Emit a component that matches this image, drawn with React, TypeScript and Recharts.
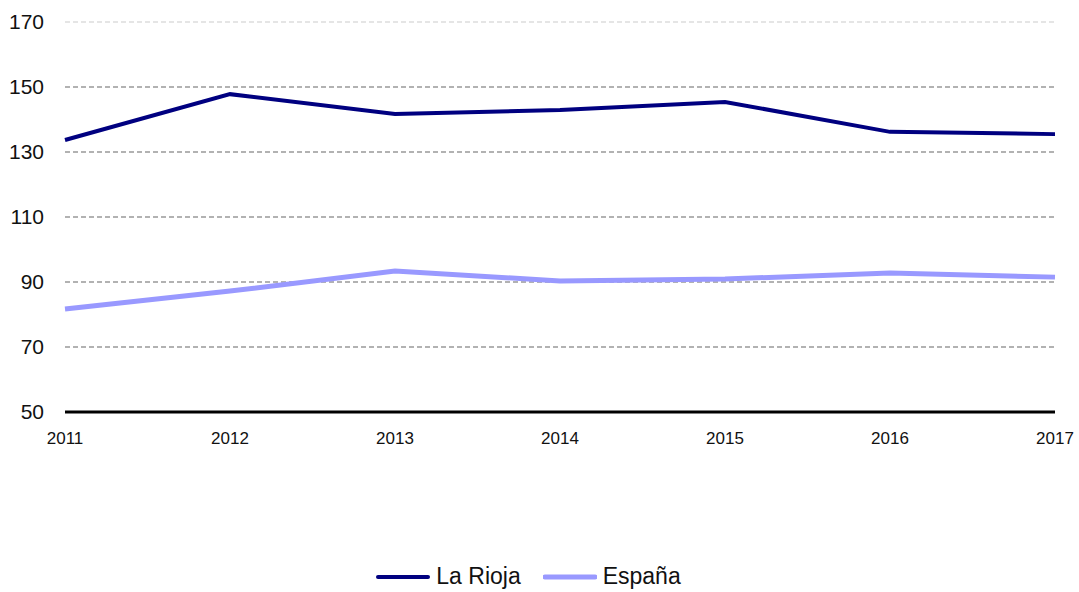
import { LineChart, Line, XAxis, YAxis, ReferenceLine, Legend } from "recharts";

const years = ["2011", "2012", "2013", "2014", "2015", "2016", "2017"];
const laRioja = [133.7, 147.8, 141.7, 142.9, 145.4, 136.2, 135.5];
const espana = [81.7, 87.2, 93.4, 90.3, 90.9, 92.8, 91.5];
const yTicks = [50, 70, 90, 110, 130, 150, 170];

const data = years.map((year, i) => ({
  year,
  laRioja: laRioja[i],
  espana: espana[i],
}));

const font = "'Liberation Sans', Arial, Helvetica, sans-serif";

function LegendContent() {
  const items = [
    { label: "La Rioja", color: "#000080", width: 4 },
    { label: "España", color: "#9999ff", width: 5 },
  ];
  return (
    <div style={{ display: "flex", justifyContent: "center", fontFamily: font, fontSize: 23, color: "#111" }}>
      {items.map((it) => (
        <div key={it.label} style={{ display: "flex", alignItems: "center", marginRight: 22 }}>
          <svg width={54} height={10} style={{ marginRight: 6 }}>
            <line x1={2} y1={5} x2={52} y2={5} stroke={it.color} strokeWidth={it.width} strokeLinecap="round" />
          </svg>
          <span>{it.label}</span>
        </div>
      ))}
    </div>
  );
}

export default function App() {
  return (
    <div style={{ width: 1079, height: 592, background: "#fff" }}>
      <style>{"body{margin:0}"}</style>
      <LineChart
        width={1079}
        height={592}
        data={data}
        margin={{ top: 22, right: 24, bottom: 123, left: 0 }}
      >
        {yTicks.slice(1).map((t) => (
          <ReferenceLine
            key={t}
            y={t}
            stroke={t === 170 ? "#dddddd" : "#999999"}
            strokeWidth={1.5}
            strokeDasharray="5 3"
          />
        ))}
        <XAxis
          dataKey="year"
          axisLine={{ stroke: "#000", strokeWidth: 3 }}
          tickLine={false}
          tickMargin={14}
          height={30}
          tick={{ fontSize: 17, fill: "#111", fontFamily: font }}
          interval={0}
        />
        <YAxis
          domain={[50, 170]}
          ticks={yTicks}
          width={65}
          axisLine={false}
          tickLine={false}
          tickMargin={15}
          tick={{ fontSize: 21, fill: "#111", fontFamily: font }}
        />
        <Legend
          content={<LegendContent />}
          wrapperStyle={{ position: "absolute", top: 563, left: 0, width: 1079 }}
        />
        <Line
          dataKey="laRioja"
          name="La Rioja"
          stroke="#000080"
          strokeWidth={4}
          dot={false}
          isAnimationActive={false}
        />
        <Line
          dataKey="espana"
          name="España"
          stroke="#9999ff"
          strokeWidth={5}
          dot={false}
          isAnimationActive={false}
        />
      </LineChart>
    </div>
  );
}
